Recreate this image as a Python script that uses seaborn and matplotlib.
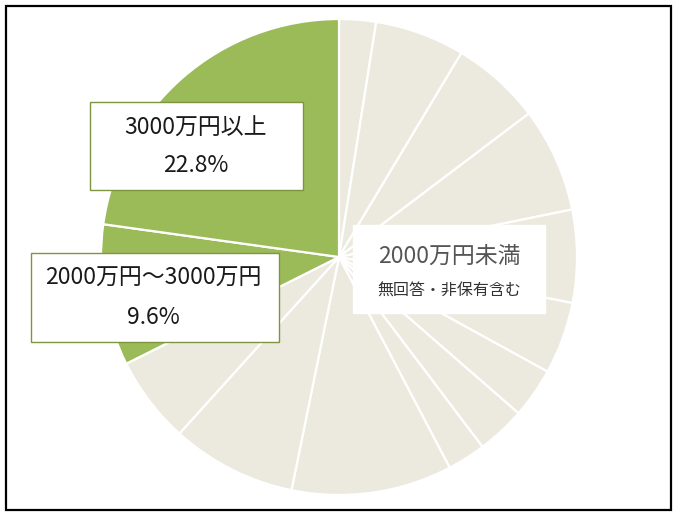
import matplotlib
matplotlib.use("Agg")
import seaborn as sns
from matplotlib import pyplot as plt
from matplotlib.patches import Rectangle

# shares (%), clockwise from 12 o'clock
under2000_shares = [2.5, 6.1, 6.1, 7.1, 6.3, 4.9, 3.4, 3.3, 2.6, 10.9, 8.5, 5.9]
green_labels = ["2000万円～3000万円", "3000万円以上"]
green_shares = [9.6, 22.8]
under2000_title = "2000万円未満"
under2000_note = "無回答・非保有含む"

BEIGE = "#eceadf"
GREEN = "#9bbb59"
W, H = 678, 518

sns.set_style("white")
plt.rcParams['font.family'] = ['Noto Sans CJK JP', 'DejaVu Sans']

fig = plt.figure(figsize=(W / 100, H / 100), dpi=100)
ax = fig.add_axes([0, 0, 1, 1])

def py(y):
    # picture y (from top) -> axes y
    return H - y

values = under2000_shares + green_shares
colors = [BEIGE] * len(under2000_shares) + [GREEN] * len(green_shares)
wedges, _ = ax.pie(values, colors=colors, startangle=90, counterclock=False,
                   center=(339, py(257)), radius=238, frame=True,
                   wedgeprops={'edgecolor': 'white', 'linewidth': 1.6})
# pie resets the limits with frame=True, so set them after
ax.set_xlim(0, W)
ax.set_ylim(0, H)
ax.set_aspect("equal")
ax.axis("off")

# outer frame
ax.add_patch(Rectangle((6, py(510)), 665, 504, fill=False, edgecolor="black",
                       linewidth=1.6, zorder=5))

def label_box(x0, y0, x1, y1, edge):
    ax.add_patch(Rectangle((x0, py(y1)), x1 - x0, y1 - y0, facecolor="white",
                           edgecolor=edge, linewidth=1.0, zorder=4))

# 3000万円以上
label_box(90, 102, 303, 190, "#7f9440")
ax.text(196, py(128), green_labels[1], ha="center", va="center", fontsize=16.5,
        color="#1a1a1a", zorder=6)
ax.text(196, py(166), "%.1f%%" % green_shares[1], ha="center", va="center",
        fontsize=16.5, color="#1a1a1a", zorder=6)

# 2000万円～3000万円
label_box(31, 253, 279, 342, "#7f9440")
ax.text(153, py(278), green_labels[0], ha="center", va="center", fontsize=16.5,
        color="#1a1a1a", zorder=6)
ax.text(153, py(318), "%.1f%%" % green_shares[0], ha="center", va="center",
        fontsize=16.5, color="#1a1a1a", zorder=6)

# 2000万円未満
label_box(353, 225, 545, 313, "white")
ax.text(449, py(256), under2000_title, ha="center", va="center", fontsize=16.5,
        color="#555555", zorder=6)
ax.text(449, py(291), under2000_note, ha="center", va="center", fontsize=11.5,
        color="#333333", zorder=6)

fig.savefig("out.png", dpi=100, facecolor="white")
